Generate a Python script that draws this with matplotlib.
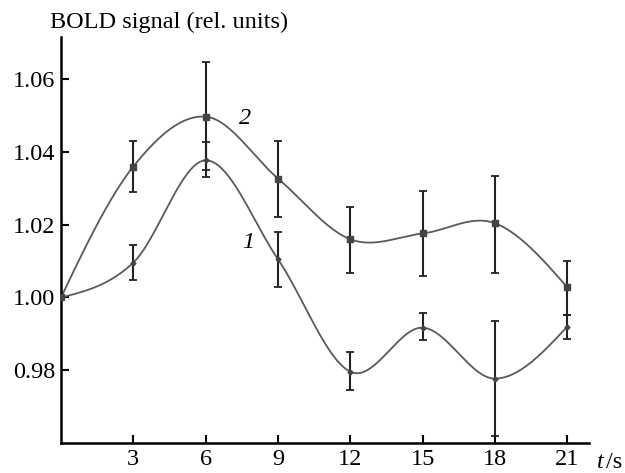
import numpy as np
import matplotlib
matplotlib.use("Agg")
import matplotlib.pyplot as plt

t = [0, 3, 6, 9, 12, 15, 18, 21]
s1 = [1.000, 1.0096, 1.0377, 1.0105, 0.9796, 0.9917, 0.9777, 0.9920]
s1_lo = [0.0, 0.0049, 0.0047, 0.0075, 0.0049, 0.0035, 0.0157, 0.0033]
s1_hi = [0.0, 0.0047, 0.0050, 0.0075, 0.0054, 0.0039, 0.0157, 0.0033]
s2 = [1.000, 1.0360, 1.0497, 1.0327, 1.0160, 1.0176, 1.0204, 1.0028]
s2_lo = [0.0, 0.0071, 0.0147, 0.0105, 0.0094, 0.0118, 0.0138, 0.0075]
s2_hi = [0.0, 0.0070, 0.0150, 0.0103, 0.0090, 0.0116, 0.0129, 0.0071]
yticks = [0.98, 1.00, 1.02, 1.04, 1.06]
xticks = [3, 6, 9, 12, 15, 18, 21]


def smooth_curve(x, y, xs):
    """Cubic Hermite curve: Catmull-Rom tangents inside, free (natural) ends."""
    x = np.asarray(x, float); y = np.asarray(y, float)
    n = len(x)
    m = np.empty(n)
    m[1:-1] = (y[2:] - y[:-2]) / (x[2:] - x[:-2])
    sec0 = (y[1] - y[0]) / (x[1] - x[0])
    secn = (y[-1] - y[-2]) / (x[-1] - x[-2])
    m[0] = (3 * sec0 - m[1]) / 2
    m[-1] = (3 * secn - m[-2]) / 2
    out = np.empty_like(xs)
    for k, xv in enumerate(xs):
        i = min(max(np.searchsorted(x, xv) - 1, 0), n - 2)
        h = x[i + 1] - x[i]
        s = (xv - x[i]) / h
        h00 = 2 * s**3 - 3 * s**2 + 1
        h10 = s**3 - 2 * s**2 + s
        h01 = -2 * s**3 + 3 * s**2
        h11 = s**3 - s**2
        out[k] = h00 * y[i] + h10 * h * m[i] + h01 * y[i + 1] + h11 * h * m[i + 1]
    return out


plt.rcParams['font.family'] = ['Liberation Serif', 'DejaVu Serif']
fig = plt.figure(figsize=(6.25, 4.73), dpi=100)
ax = fig.add_axes([0.0976, 0.0634, 0.8448, 0.8584])

xs = np.linspace(0, 21, 500)
line_col = '#5a5a5a'
for y, lo, hi, mk, ms in [(s1, s1_lo, s1_hi, 'D', 2.5), (s2, s2_lo, s2_hi, 's', 5)]:
    ax.plot(xs, smooth_curve(t, y, xs), color=line_col, lw=1.3, zorder=2)
    ax.errorbar(t[1:], y[1:], yerr=[lo[1:], hi[1:]], fmt='none', ecolor='#222222',
                elinewidth=1.5, capsize=2.7, capthick=1.3, zorder=3)
    ax.plot(t, y, linestyle='none', marker=mk, ms=ms, color='#444444', zorder=4)

ax.set_xlim(0, 21.9)
ax.set_ylim(0.960, 1.0716)
ax.set_xticks(xticks)
ax.set_yticks(yticks)
ax.set_yticklabels([f'{v:.2f}' for v in yticks])
for s in ['top', 'right']:
    ax.spines[s].set_visible(False)
for s in ['left', 'bottom']:
    ax.spines[s].set_linewidth(1.8)
ax.tick_params(direction='in', length=6, width=1.5, labelsize=17.5, pad=4)

ax.text(7.63, 1.0492, '2', style='italic', fontsize=17.5, ha='center', va='center')
ax.text(7.76, 1.0151, '1', style='italic', fontsize=17.5, ha='center', va='center')

fig.text(0.08, 0.953, 'BOLD signal (rel. units)', fontsize=17.5, ha='left', va='center')
fig.text(0.955, 0.023, 't', style='italic', fontsize=17.5, ha='left', va='center')
fig.text(0.969, 0.023, '/s', fontsize=17.5, ha='left', va='center')

fig.savefig('out.png', dpi=100)
